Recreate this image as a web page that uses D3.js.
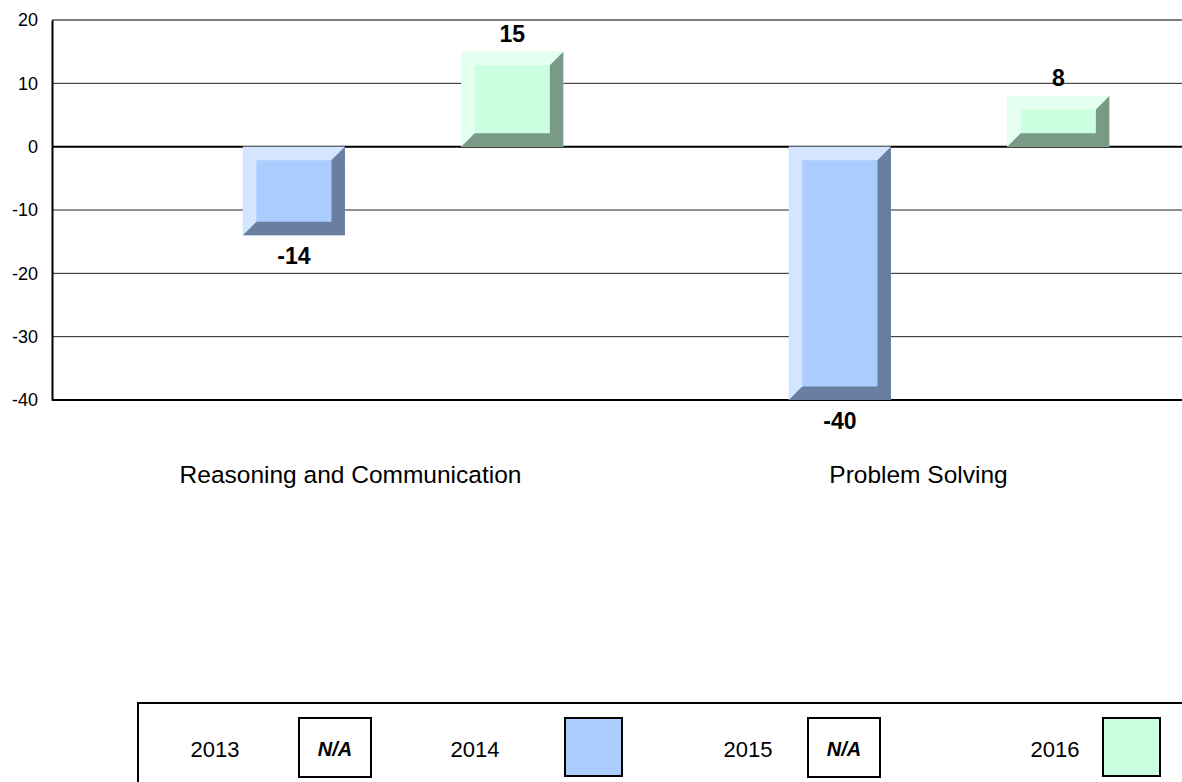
<!DOCTYPE html>
<html><head><meta charset="utf-8">
<script src="https://cdn.jsdelivr.net/npm/d3@7/dist/d3.min.js"></script>
<style>body{margin:0;background:#fff;}svg{display:block;font-family:Arial,"Liberation Sans",sans-serif;}</style>
</head><body>
<script>
const categories = ["Reasoning and Communication", "Problem Solving"];
const years = ["2013", "2014", "2015", "2016"];
const values2013 = [null, null];
const values2014 = [-14, -40];
const values2015 = [null, null];
const values2016 = [15, 8];
const yTicks = [20, 10, 0, -10, -20, -30, -40];
const seriesValues = {"2013": values2013, "2014": values2014, "2015": values2015, "2016": values2016};

const colors = {
  "2014": {face: "#aaccfe", light: "#d4e6ff", dark: "#6a7f9f"},
  "2016": {face: "#ccffe0", light: "#e5fff0", dark: "#7a9a88"}
};

const W = 1182, H = 782;
const svg = d3.select("body").append("svg").attr("width", W).attr("height", H);

const y = d3.scaleLinear().domain([-40, 20]).range([400, 20]);
const x0 = d3.scaleBand().domain(categories).range([75.5, 1167.5]).paddingInner(0.2).paddingOuter(0.1);
const x1 = d3.scaleBand().domain(years).range([0, x0.bandwidth()]).paddingInner(0.065).paddingOuter(0.0325);

// gridlines
svg.append("g").selectAll("line").data(yTicks).join("line")
  .attr("x1", 52).attr("x2", W)
  .attr("y1", d => y(d)).attr("y2", d => y(d))
  .attr("stroke", d => (d === 0 || d === -40 || d === 20) ? "#000" : "#222")
  .attr("stroke-width", d => (d === 0 || d === -40) ? 2 : 1);

// y axis
const yAxis = d3.axisLeft(y).tickValues(yTicks).tickSize(0).tickPadding(14).tickFormat(d => String(d));
const ga = svg.append("g").attr("transform", "translate(52,0)").call(yAxis);
ga.select(".domain").attr("stroke", "#000").attr("stroke-width", 2);
ga.selectAll("text").attr("font-size", 18).attr("fill", "#000").attr("font-family", "Arial, 'Liberation Sans', sans-serif");

// bars
const b = 13.5;
const rows = [];
categories.forEach((c, i) => {
  years.forEach(yr => {
    const v = seriesValues[yr][i];
    if (v !== null && v !== undefined) rows.push({c, yr, v});
  });
});
const bars = svg.append("g").selectAll("g").data(rows).join("g");
bars.each(function(d) {
  const g = d3.select(this);
  const xa = x0(d.c) + x1(d.yr), xb = xa + x1.bandwidth();
  const ya = Math.min(y(d.v), y(0)), yb = Math.max(y(d.v), y(0));
  const col = colors[d.yr];
  g.append("rect").attr("x", xa).attr("y", ya).attr("width", xb - xa).attr("height", yb - ya).attr("fill", col.face);
  g.append("polygon").attr("fill", col.light)
    .attr("points", [[xa, ya], [xb, ya], [xb - b, ya + b], [xa + b, ya + b], [xa + b, yb - b], [xa, yb]].map(p => p.join(",")).join(" "));
  g.append("polygon").attr("fill", col.dark)
    .attr("points", [[xb, ya], [xb, yb], [xa, yb], [xa + b, yb - b], [xb - b, yb - b], [xb - b, ya + b]].map(p => p.join(",")).join(" "));
  g.append("text")
    .attr("x", (xa + xb) / 2)
    .attr("y", d.v >= 0 ? y(d.v) - 10 : y(d.v) + 29)
    .attr("text-anchor", "middle").attr("font-weight", "bold").attr("font-size", 23)
    .text(d.v);
});

// category labels
const labelShift = [2, 24];
svg.append("g").selectAll("text").data(categories).join("text")
  .attr("x", (d, i) => x0(d) + x0.bandwidth() / 2 + labelShift[i])
  .attr("y", 483)
  .attr("text-anchor", "middle").attr("font-size", 24.5)
  .text(d => d);

// legend
const lg = svg.append("g");
lg.append("rect").attr("x", 138).attr("y", 703).attr("width", 1100).attr("height", 120)
  .attr("fill", "none").attr("stroke", "#000").attr("stroke-width", 2);
const legendText = [215, 475, 748, 1055];
const legendBox = [299, 565, 808, 1103];
years.forEach((yr, i) => {
  lg.append("text").attr("x", legendText[i]).attr("y", 757).attr("text-anchor", "middle").attr("font-size", 22).text(yr);
  const has = colors[yr];
  const w = has ? 57 : 72;
  lg.append("rect").attr("x", legendBox[i]).attr("y", 718).attr("width", w).attr("height", has ? 58 : 59)
    .attr("fill", has ? colors[yr].face : "#fff").attr("stroke", "#000").attr("stroke-width", 2);
  if (!has) {
    lg.append("text").attr("x", legendBox[i] + w / 2).attr("y", 756).attr("text-anchor", "middle")
      .attr("font-size", 20).attr("font-weight", "bold").attr("font-style", "italic").text("N/A");
  }
});
</script>
</body></html>
